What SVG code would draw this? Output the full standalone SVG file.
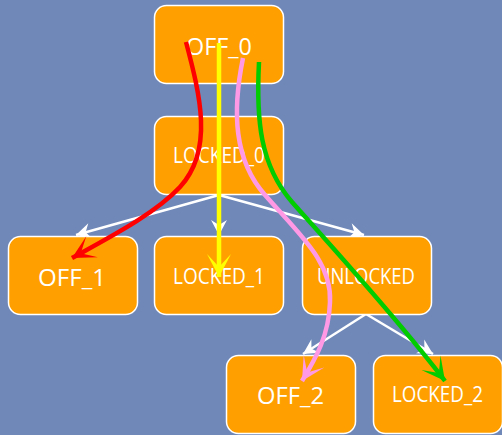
<svg xmlns="http://www.w3.org/2000/svg" width="502" height="435" viewBox="0 0 502 435">
  <style>
    .node rect { fill: #FFA000; stroke: #FFFFFF; stroke-width: 1.5; }
    .node text { fill: #FFFFFF; font-family: "Open Sans", "Noto Sans", "Liberation Sans", sans-serif; text-anchor: middle; }
    .big { font-size: 24px; }
    .small { font-size: 21px; }
    .edge { fill: none; stroke: #FFFFFF; stroke-width: 2.5; }
    .path { fill: none; stroke-width: 4.5; stroke-linecap: butt; }
  </style>
  <defs>
    <marker id="wh" markerUnits="userSpaceOnUse" markerWidth="18" markerHeight="18" viewBox="-16 -9 18 18" refX="0" refY="0" orient="auto">
      <path d="M0,0 L-15,-8 L-10,0 L-15,8 Z" fill="#FFFFFF"/>
    </marker>
    <marker id="ar-red" markerUnits="userSpaceOnUse" markerWidth="28" markerHeight="28" viewBox="-26 -14 28 28" refX="0" refY="0" orient="auto">
      <path d="M0,0 L-23,-12 L-10,0 L-23,12 Z" fill="#FF0000"/>
    </marker>
    <marker id="ar-yellow" markerUnits="userSpaceOnUse" markerWidth="28" markerHeight="28" viewBox="-26 -14 28 28" refX="0" refY="0" orient="auto">
      <path d="M0,0 L-23,-12 L-10,0 L-23,12 Z" fill="#FFFF00"/>
    </marker>
    <marker id="ar-pink" markerUnits="userSpaceOnUse" markerWidth="28" markerHeight="28" viewBox="-26 -14 28 28" refX="0" refY="0" orient="auto">
      <path d="M0,0 L-23,-12 L-10,0 L-23,12 Z" fill="#FF99E6"/>
    </marker>
    <marker id="ar-green" markerUnits="userSpaceOnUse" markerWidth="28" markerHeight="28" viewBox="-26 -14 28 28" refX="0" refY="0" orient="auto">
      <path d="M0,0 L-23,-12 L-10,0 L-23,12 Z" fill="#00CC00"/>
    </marker>
  </defs>

  <rect x="0" y="0" width="502" height="435" fill="#6F88B8"/>

  <!-- transitions between states -->
  <g id="connectors">
    <line class="edge" x1="219" y1="195" x2="76" y2="235" marker-end="url(#wh)"/>
    <line class="edge" x1="219" y1="195" x2="219" y2="235" marker-end="url(#wh)"/>
    <line class="edge" x1="219" y1="195" x2="364" y2="235" marker-end="url(#wh)"/>
    <line class="edge" x1="366" y1="314" x2="303" y2="354" marker-end="url(#wh)"/>
    <line class="edge" x1="366" y1="314" x2="433" y2="354" marker-end="url(#wh)"/>
  </g>

  <!-- states -->
  <g id="OFF_0" class="node">
    <rect x="154.5" y="5.5" width="129" height="78" rx="12"/>
    <text class="big" x="219" y="55" textLength="66" lengthAdjust="spacingAndGlyphs">OFF_0</text>
  </g>
  <g id="LOCKED_0" class="node">
    <rect x="154.5" y="116.5" width="129" height="78" rx="12"/>
    <text class="small" x="219" y="163" textLength="92" lengthAdjust="spacingAndGlyphs">LOCKED_0</text>
  </g>
  <g id="OFF_1" class="node">
    <rect x="8.5" y="236.5" width="129" height="78" rx="12"/>
    <text class="big" x="72" y="286" textLength="68" lengthAdjust="spacingAndGlyphs">OFF_1</text>
  </g>
  <g id="LOCKED_1" class="node">
    <rect x="154.5" y="236.5" width="129" height="78" rx="12"/>
    <text class="small" x="219" y="284" textLength="92" lengthAdjust="spacingAndGlyphs">LOCKED_1</text>
  </g>
  <g id="UNLOCKED" class="node">
    <rect x="302.5" y="236.5" width="129" height="78" rx="12"/>
    <text class="small" x="366" y="284" textLength="98" lengthAdjust="spacingAndGlyphs">UNLOCKED</text>
  </g>
  <g id="OFF_2" class="node">
    <rect x="226.5" y="355.5" width="129" height="78" rx="12"/>
    <text class="big" x="290.5" y="404" textLength="67" lengthAdjust="spacingAndGlyphs">OFF_2</text>
  </g>
  <g id="LOCKED_2" class="node">
    <rect x="373.5" y="355.5" width="129" height="78" rx="12"/>
    <text class="small" x="437.5" y="402" textLength="91" lengthAdjust="spacingAndGlyphs">LOCKED_2</text>
  </g>

  <!-- highlighted traces -->
  <g id="traces">
    <path class="path" stroke="#FF0000" d="M186,42 C200,95 214,150 180,187 C155,214 108,238 72,258" marker-end="url(#ar-red)"/>
    <path class="path" stroke="#FFFF00" d="M219,43 L219,277" marker-end="url(#ar-yellow)"/>
    <path class="path" stroke="#FF99E6" d="M243,58 C232,112 234,160 265,195 C300,235 332,262 330,302 C329,335 316,358 302,381" marker-end="url(#ar-pink)"/>
    <path class="path" stroke="#00CC00" d="M259,62 C256,120 260,165 292,202 C322,236 392,312 445,381" marker-end="url(#ar-green)"/>
  </g>
</svg>
